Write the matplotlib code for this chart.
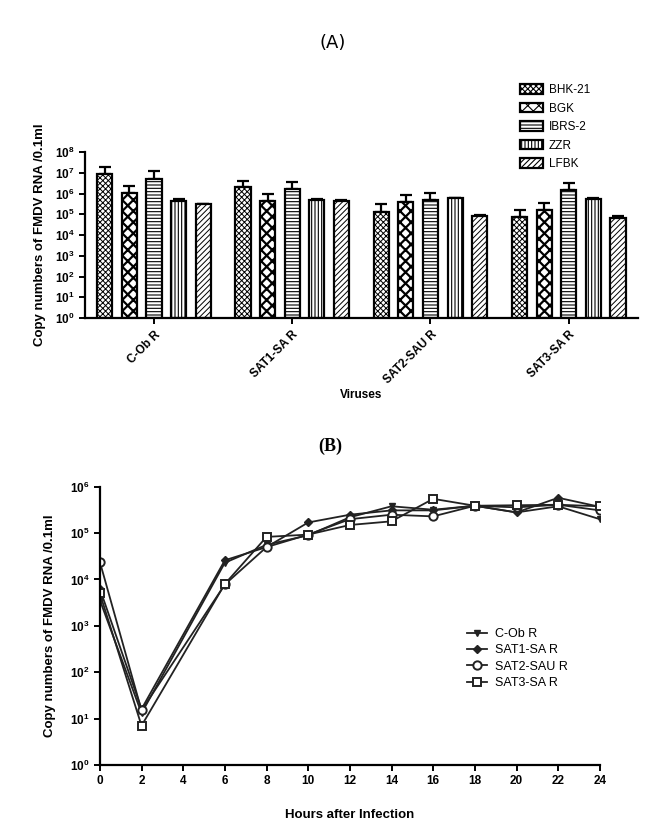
import numpy as np
import matplotlib.pyplot as plt
from matplotlib.ticker import FixedLocator

plt.rcParams['font.family'] = ['Liberation Sans', 'DejaVu Sans']
plt.rcParams['mathtext.fontset'] = 'custom'
plt.rcParams['mathtext.rm'] = 'Liberation Sans:bold'
plt.rcParams['mathtext.bf'] = 'Liberation Sans:bold'
plt.rcParams['mathtext.default'] = 'bf'
plt.rcParams['hatch.linewidth'] = 0.8

# (A) copy numbers per cell line for each virus
viruses = ['C-Ob R', 'SAT1-SA R', 'SAT2-SAU R', 'SAT3-SA R']
cells = ['BHK-21', 'BGK', 'IBRS-2', 'ZZR', 'LFBK']
bhk21 = [8.7e6, 2.0e6, 1.3e5, 7.6e4]
bgk = [1.1e6, 4.5e5, 3.9e5, 1.6e5]
ibrs2 = [5.2e6, 1.65e6, 4.9e5, 1.4e6]
zzr = [4.5e5, 4.9e5, 5.9e5, 5.4e5]
lfbk = [3.1e5, 4.5e5, 8.3e4, 6.8e4]
bhk21_sd = [1.08e7, 2.2e6, 1.7e5, 8.4e4]
bgk_sd = [1.2e6, 5.0e5, 4.6e5, 1.8e5]
ibrs2_sd = [6.8e6, 1.85e6, 6.1e5, 1.9e6]
zzr_sd = [7e4, 3e4, 4e4, 9e4]
lfbk_sd = [1e4, 2e4, 5e3, 1.2e4]

# (B) growth curves
hours = [0, 2, 6, 8, 10, 12, 14, 16, 18, 20, 22, 24]
c_ob = [3.6e3, 13, 2.3e4, 5.6e4, 9.0e4, 2.2e5, 3.8e5, 3.2e5, 3.9e5, 2.8e5, 3.8e5, 2.0e5]
sat1 = [6.3e3, 16, 2.6e4, 5.0e4, 1.7e5, 2.5e5, 3.1e5, 3.1e5, 3.9e5, 2.8e5, 5.8e5, 3.7e5]
sat2 = [2.4e4, 15, 7.8e3, 5.0e4, 9.3e4, 2.0e5, 2.5e5, 2.3e5, 3.9e5, 3.6e5, 4.1e5, 3.1e5]
sat3 = [5.0e3, 7, 8.0e3, 8.3e4, 9.3e4, 1.5e5, 1.8e5, 5.5e5, 3.9e5, 4.0e5, 4.1e5, 3.8e5]

fig = plt.figure(figsize=(6.57, 8.35), dpi=100)

def style_axes(ax):
    ax.spines['top'].set_visible(False)
    ax.spines['right'].set_visible(False)
    for s in ['left', 'bottom']:
        ax.spines[s].set_linewidth(1.6)
    ax.tick_params(width=1.4, length=4, labelsize=8.5)
    for lab in ax.get_xticklabels() + ax.get_yticklabels():
        lab.set_fontweight('bold')

# ---------- panel A ----------
ax1 = fig.add_axes([0.129, 0.619, 0.842, 0.199])
x = np.arange(len(viruses))
series = [bhk21, bgk, ibrs2, zzr, lfbk]
errors = [bhk21_sd, bgk_sd, ibrs2_sd, zzr_sd, lfbk_sd]
hatches = ['xxxxxx', 'xxx', '-----', '|||||', '//////']
hatch_lw = [0.7, 1.6, 0.8, 0.8, 0.7]
step = 0.178
w = 0.11
handles = []
for i, (vals, sd, h, name) in enumerate(zip(series, errors, hatches, cells)):
    pos = x + (i - 2) * step
    b = ax1.bar(pos, vals, w, bottom=1, color='white', edgecolor='black',
                linewidth=1.6, hatch=h, label=name, zorder=2)
    for p in b.patches:
        try:
            p.set_hatch_linewidth(hatch_lw[i])
        except AttributeError:
            pass
    ax1.errorbar(pos, vals, yerr=[np.zeros(len(vals)), sd], fmt='none',
                 ecolor='black', elinewidth=1.6, capsize=4, capthick=1.6, zorder=1)
    handles.append(b)
ax1.set_yscale('log')
ax1.set_ylim(1, 1e8)
ax1.set_xlim(-0.5, 3.5)
ax1.yaxis.set_major_locator(FixedLocator([10.0 ** k for k in range(9)]))
ax1.yaxis.set_minor_locator(FixedLocator([]))
ax1.set_xticks(x)
ax1.set_xticklabels(viruses, rotation=45, ha='right', rotation_mode='anchor')
ax1.set_xlabel('Viruses', fontsize=8.5, fontweight='bold', labelpad=2)
ax1.set_ylabel('Copy numbers of FMDV RNA /0.1ml', fontsize=9.5, fontweight='bold', labelpad=6)
style_axes(ax1)
fig.legend(handles=handles, labels=cells, loc='upper left', bbox_to_anchor=(0.785, 0.905),
           frameon=False, fontsize=8.5, handlelength=1.9, handleheight=0.9,
           labelspacing=0.55, handletextpad=0.5, borderaxespad=0)

fig.text(0.507, 0.948, '(A)', ha='center', va='center', fontsize=13, family='DejaVu Sans')

# ---------- panel B ----------
ax2 = fig.add_axes([0.152, 0.084, 0.761, 0.333])
ax2.plot(hours, c_ob, color='#222222', lw=1.3, marker='v', ms=5, mfc='#222222', mec='#222222', label='C-Ob R')
ax2.plot(hours, sat1, color='#222222', lw=1.3, marker='D', ms=4.5, mfc='#222222', mec='#222222', label='SAT1-SA R')
ax2.plot(hours, sat2, color='#222222', lw=1.3, marker='o', ms=6, mfc='white', mec='#222222', mew=1.4, label='SAT2-SAU R')
ax2.plot(hours, sat3, color='#222222', lw=1.3, marker='s', ms=6, mfc='white', mec='#222222', mew=1.4, label='SAT3-SA R')
ax2.set_yscale('log')
ax2.set_ylim(1, 1e6)
ax2.set_xlim(0, 24)
ax2.set_xticks(range(0, 25, 2))
ax2.yaxis.set_major_locator(FixedLocator([10.0 ** k for k in range(7)]))
ax2.yaxis.set_minor_locator(FixedLocator([]))
ax2.set_xlabel('Hours after Infection', fontsize=9.5, fontweight='bold', labelpad=16)
ax2.set_ylabel('Copy numbers of FMDV RNA /0.1ml', fontsize=9.5, fontweight='bold', labelpad=10)
style_axes(ax2)
ax2.legend(loc='upper left', bbox_to_anchor=(0.725, 0.51), frameon=False, fontsize=9,
           handlelength=1.6, labelspacing=0.35, handletextpad=0.6, borderaxespad=0)

fig.text(0.503, 0.466, '(B)', ha='center', va='center', fontsize=13, fontweight='bold',
         family='Liberation Serif')

fig.savefig('out.png', dpi=100)
